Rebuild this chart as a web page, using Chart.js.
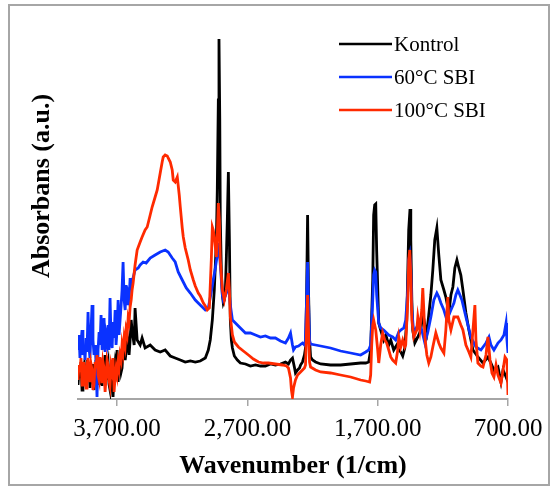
<!DOCTYPE html>
<html><head><meta charset="utf-8">
<script src="https://cdn.jsdelivr.net/npm/chart.js@4.4.1/dist/chart.umd.min.js"></script>
<style>html,body{margin:0;padding:0;background:#fff;}</style>
</head><body>
<canvas id="c" width="558" height="486"></canvas>
<script>
const xTickValues = [3700, 2700, 1700, 700];
const seriesLabels = ['Kontrol', '60°C SBI', '100°C SBI'];
const seriesColors = ['#000000', '#0a32ff', '#ff2a00'];
const yTitle = 'Absorbans (a.u.)';
const xTitle = 'Wavenumber (1/cm)';

// dense wavenumber grid of the noisy high-wavenumber region (4000 -> 3585)
const noiseWn = [4000,3992,3985,3977,3969,3962,3954,3946,3938,3931,
 3923,3915,3908,3900,3892,3885,3877,3869,3862,3854,
 3846,3838,3831,3823,3815,3808,3800,3792,3785,3777,
 3769,3762,3754,3746,3738,3731,3723,3715,3708,3700,
 3692,3685,3677,3669,3662,3654,3646,3638,3631,3623,
 3615,3608,3600,3592,3585];

const kontrolNoise = [0.14,0.29,0.21,0.37,0.09,0.27,0.33,0.15,0.24,0.39,
 0.19,0.31,0.11,0.27,0.35,0.17,0.09,0.31,0.39,0.21,
 0.27,0.14,0.41,0.25,0.13,0.33,0.27,0.44,0.19,0.31,
 0.37,0.15,0.09,0.29,0.24,0.02,0.27,0.37,0.31,0.49,
 0.17,0.34,0.39,0.27,0.31,0.49,0.54,0.39,0.47,0.64,
 0.57,0.44,0.59,0.79,0.69];
const sbi60Noise = [0.49,0.64,0.41,0.57,0.69,0.44,0.54,0.39,0.61,0.47,
 0.87,0.51,0.41,0.69,0.94,0.59,0.44,0.54,0.37,0.02,
 0.49,0.67,0.54,0.84,0.49,0.59,0.81,0.47,0.64,0.57,
 0.74,0.49,1.01,0.59,0.51,0.77,0.61,0.89,0.54,0.69,
 0.99,0.64,0.79,0.94,1.09,1.37,0.99,0.89,1.14,0.94,
 1.04,0.99,1.21,1.09,1.17];
const sbi100Noise = [0.19,0.34,0.27,0.41,0.14,0.29,0.37,0.21,0.11,0.33,
 0.41,0.24,0.17,0.35,0.29,0.09,0.15,0.37,0.31,0.44,
 0.24,0.19,0.42,0.27,0.16,0.37,0.31,0.07,0.21,0.39,
 0.34,0.19,0.13,0.33,0.27,0.41,0.07,0.23,0.31,0.24,
 0.37,0.31,0.44,0.39,0.54,0.47,0.61,0.54,0.69,0.64,
 0.81,0.77,0.92,0.99,1.09];

const kontrolWn = [3569,3562,3546,3523,3508,3485,3446,3408,3369,3331,3292,
 3254,3215,3177,3138,3100,3062,3023,3000,2985,2969,
 2954,2938,2931,2923,2918,2912,2908,2900,2892,2885,
 2877,2869,2862,2854,2846,2838,2831,2823,2815,2800,
 2777,2754,2715,2677,2638,2600,2562,2523,2485,2446,
 2408,2385,2369,2354,2338,2331,2315,2300,2292,2277,
 2262,2254,2246,2238,2231,2223,2215,2200,2177,2138,
 2062,1985,1908,1831,1792,1769,1754,1738,1731,1723,
 1715,1708,1692,1677,1654,1638,1615,1600,1577,1554,
 1538,1523,1508,1492,1477,1462,1452,1446,1438,1431,
 1415,1392,1369,1354,1338,1323,1308,1292,1277,1262,
 1246,1231,1215,1192,1177,1154,1138,1123,1108,1092,
 1077,1062,1046,1023,1000,969,931,892,854,831,
 808,777,754,738,715,700];
const kontrolAbs = [0.54,0.91,0.59,0.54,0.61,0.51,0.54,0.49,0.47,0.49,0.43,
 0.41,0.39,0.37,0.38,0.37,0.38,0.41,0.49,0.59,0.79,
 1.09,1.59,2.09,2.99,3.60,2.79,1.79,1.29,1.04,0.96,
 0.99,1.09,1.39,1.79,2.27,1.59,0.79,0.59,0.51,0.43,
 0.39,0.36,0.35,0.33,0.34,0.33,0.33,0.35,0.34,0.35,
 0.37,0.35,0.39,0.41,0.31,0.26,0.29,0.31,0.34,0.37,
 0.44,0.51,0.99,1.84,1.09,0.59,0.42,0.39,0.37,0.35,
 0.34,0.34,0.35,0.36,0.36,0.37,0.49,1.19,1.84,1.94,
 1.95,1.49,0.76,0.69,0.59,0.64,0.54,0.59,0.49,0.54,
 0.49,0.47,0.43,0.51,0.79,1.69,1.90,1.59,0.99,0.69,
 0.56,0.62,0.69,0.86,0.74,0.66,0.84,1.04,1.29,1.59,
 1.71,1.44,1.19,1.09,1.02,0.86,1.04,1.12,1.31,1.39,
 1.31,1.24,1.09,0.86,0.69,0.49,0.42,0.36,0.42,0.36,
 0.29,0.32,0.17,0.29,0.22,0.17];

const sbi60Wn = [3562,3538,3523,3500,3477,3446,3408,3369,3331,3308,
 3277,3254,3231,3200,3169,3138,3100,3062,3023,3000,
 2977,2962,2946,2931,2919,2908,2892,2885,2869,2854,
 2846,2831,2815,2792,2754,2715,2677,2638,2600,2562,
 2523,2485,2446,2408,2385,2369,2354,2346,2331,2308,
 2277,2262,2254,2246,2238,2231,2223,2215,2177,2138,
 2062,1985,1908,1831,1792,1769,1754,1738,1731,1723,
 1715,1708,1692,1677,1654,1615,1585,1562,1538,1523,
 1500,1485,1469,1462,1454,1446,1438,1423,1385,1362,
 1338,1315,1292,1269,1246,1231,1215,1192,1169,1138,
 1115,1100,1085,1069,1054,1023,985,946,908,869,
 846,831,808,777,754,731,715,708,700];
const sbi60Abs = [1.29,1.31,1.34,1.37,1.36,1.41,1.44,1.47,1.49,1.47,
 1.41,1.37,1.27,1.19,1.11,1.06,0.99,0.94,0.89,0.91,
 1.07,1.19,1.31,1.44,1.56,1.34,1.04,0.99,1.03,1.09,
 1.16,0.94,0.79,0.76,0.71,0.66,0.66,0.64,0.62,0.63,
 0.61,0.61,0.58,0.56,0.61,0.66,0.54,0.49,0.52,0.53,
 0.56,0.54,0.59,0.99,1.37,0.99,0.59,0.55,0.54,0.53,
 0.51,0.48,0.46,0.44,0.47,0.49,0.54,0.99,1.24,1.29,
 1.27,1.04,0.76,0.71,0.69,0.64,0.62,0.59,0.67,0.69,
 0.71,0.79,1.09,1.39,1.44,1.29,0.89,0.66,0.76,0.69,
 0.56,0.67,0.82,0.99,1.06,1.02,0.96,0.89,0.79,0.89,
 0.96,1.04,1.09,1.04,0.99,0.82,0.62,0.52,0.49,0.56,
 0.62,0.54,0.49,0.56,0.59,0.64,0.76,0.59,0.46];

const sbi100Wn = [3577,3562,
 3546,3523,3508,3485,3469,3446,3431,3408,3392,3369,
 3354,3346,3331,3315,3308,3292,3277,3269,3254,3238,
 3223,3215,3200,3192,3177,3154,3138,3115,3100,3077,
 3062,3038,3023,3008,2992,2977,2969,2962,2954,2938,
 2931,2923,2915,2908,2892,2877,2862,2846,2838,2831,
 2815,2800,2769,2731,2692,2654,2615,2577,2538,2485,
 2431,2400,2385,2369,2362,2354,2346,2331,2315,2292,
 2277,2262,2254,2246,2238,2231,2223,2215,2177,2138,
 2062,1985,1908,1831,1792,1762,1754,1746,1738,1731,
 1723,1715,1700,1692,1677,1662,1646,1631,1615,1600,
 1585,1562,1546,1538,1523,1508,1492,1485,1469,1462,
 1454,1446,1438,1423,1400,1392,1377,1362,1354,1346,
 1338,1323,1308,1292,1277,1254,1231,1215,1192,1177,
 1162,1154,1138,1115,1085,1062,1046,1023,1000,985,
 969,954,946,931,908,892,869,854,838,823,
 808,792,777,754,738,723,708,700];
const sbi100Abs = [1.16,1.34,
 1.49,1.57,1.62,1.69,1.72,1.84,1.92,2.02,2.09,2.26,
 2.37,2.42,2.44,2.43,2.41,2.37,2.29,2.19,2.17,2.22,
 2.04,1.92,1.71,1.62,1.51,1.39,1.29,1.19,1.13,1.06,
 1.03,0.96,0.93,0.89,0.91,1.39,1.72,1.69,1.62,1.42,
 1.64,1.96,1.79,1.39,1.09,0.99,1.09,1.26,1.09,0.82,
 0.64,0.57,0.52,0.48,0.44,0.40,0.37,0.36,0.36,0.35,
 0.34,0.33,0.31,0.21,0.09,0.02,0.11,0.19,0.24,0.27,
 0.29,0.31,0.34,0.69,1.04,0.69,0.37,0.32,0.29,0.27,
 0.26,0.24,0.22,0.19,0.18,0.17,0.24,0.54,0.74,0.79,
 0.74,0.69,0.49,0.36,0.54,0.66,0.59,0.56,0.49,0.42,
 0.39,0.36,0.49,0.62,0.52,0.59,0.52,0.54,0.99,1.39,
 1.49,1.24,0.79,0.62,0.69,0.82,0.69,0.89,1.11,0.89,
 0.62,0.44,0.36,0.42,0.52,0.66,0.56,0.51,0.46,0.69,
 1.02,0.79,0.69,0.82,0.82,0.74,0.69,0.54,0.47,0.42,
 0.69,0.94,0.59,0.36,0.33,0.32,0.44,0.62,0.39,0.26,
 0.22,0.34,0.24,0.16,0.29,0.42,0.39,0.04];

function toPoints(wnA, absA, wnB, absB) {
  const pts = [];
  const n1 = Math.min(wnA.length, absA.length);
  for (let i = 0; i < n1; i++) pts.push({ x: wnA[i], y: absA[i] });
  const n2 = Math.min(wnB.length, absB.length);
  for (let i = 0; i < n2; i++) pts.push({ x: wnB[i], y: absB[i] });
  return pts;
}

const serif = 'Liberation Serif, Times New Roman, serif';

const framePlugin = {
  id: 'frame',
  beforeDraw(chart) {
    const c = chart.ctx;
    c.save();
    c.fillStyle = '#ffffff';
    c.fillRect(0, 0, chart.width, chart.height);
    c.strokeStyle = '#a6a6a6';
    c.lineWidth = 2;
    c.strokeRect(9, 5, 540, 480);
    c.restore();
  }
};

const yTitlePlugin = {
  id: 'yTitle',
  afterDraw(chart) {
    const c = chart.ctx;
    c.save();
    c.translate(42, 186);
    c.rotate(-Math.PI / 2);
    c.font = 'bold 26px ' + serif;
    c.fillStyle = '#000';
    c.textAlign = 'center';
    c.textBaseline = 'middle';
    c.fillText(yTitle, 0, 0);
    c.restore();
  }
};

const legendPlugin = {
  id: 'lineLegend',
  afterDraw(chart) {
    const c = chart.ctx;
    c.save();
    c.font = '21px ' + serif;
    c.textBaseline = 'middle';
    c.textAlign = 'left';
    const rows = [44, 77, 110];
    seriesLabels.forEach((lab, i) => {
      c.strokeStyle = seriesColors[i];
      c.lineWidth = 2.5;
      c.beginPath();
      c.moveTo(339, rows[i]);
      c.lineTo(392, rows[i]);
      c.stroke();
      c.fillStyle = '#000';
      c.fillText(lab, 394, rows[i] + 1);
    });
    c.restore();
  }
};

const series = [
  { pts: toPoints(noiseWn, kontrolNoise, kontrolWn, kontrolAbs), order: 3 },
  { pts: toPoints(noiseWn, sbi60Noise, sbi60Wn, sbi60Abs), order: 2 },
  { pts: toPoints(noiseWn, sbi100Noise, sbi100Wn, sbi100Abs), order: 1 }
];

new Chart(document.getElementById('c'), {
  type: 'line',
  data: {
    datasets: series.map((s, i) => ({
      label: seriesLabels[i],
      data: s.pts,
      borderColor: seriesColors[i],
      backgroundColor: seriesColors[i],
      borderWidth: 2.8,
      pointRadius: 0,
      tension: 0,
      fill: false,
      order: s.order
    }))
  },
  options: {
    responsive: false,
    animation: false,
    events: [],
    layout: { padding: { left: 0, top: 38, right: 50, bottom: 0 } },
    plugins: { legend: { display: false }, tooltip: { enabled: false } },
    scales: {
      x: {
        type: 'linear',
        reverse: true,
        min: 700,
        max: 4000,
        afterBuildTicks: s => { s.ticks = xTickValues.map(v => ({ value: v })); },
        afterFit: s => { s.height = 87; },
        ticks: {
          autoSkip: false, maxRotation: 0, padding: 8, color: '#000',
          font: { family: serif, size: 25 },
          callback: v => Number(v).toLocaleString('en-US', { minimumFractionDigits: 2, maximumFractionDigits: 2 })
        },
        grid: { drawOnChartArea: false, drawTicks: true, tickLength: 7, color: '#a6a6a6', lineWidth: 1.5 },
        border: { color: '#a6a6a6', width: 2 },
        title: {
          display: true, text: xTitle, color: '#000',
          font: { family: serif, size: 26, weight: 'bold' },
          padding: { top: 0, bottom: 4 }
        }
      },
      y: {
        min: 0,
        max: 3.61,
        afterFit: s => { s.width = 78; },
        ticks: { display: false },
        grid: { display: false },
        border: { display: false },
        title: { display: false }
      }
    }
  },
  plugins: [framePlugin, yTitlePlugin, legendPlugin]
});
</script>
</body></html>
